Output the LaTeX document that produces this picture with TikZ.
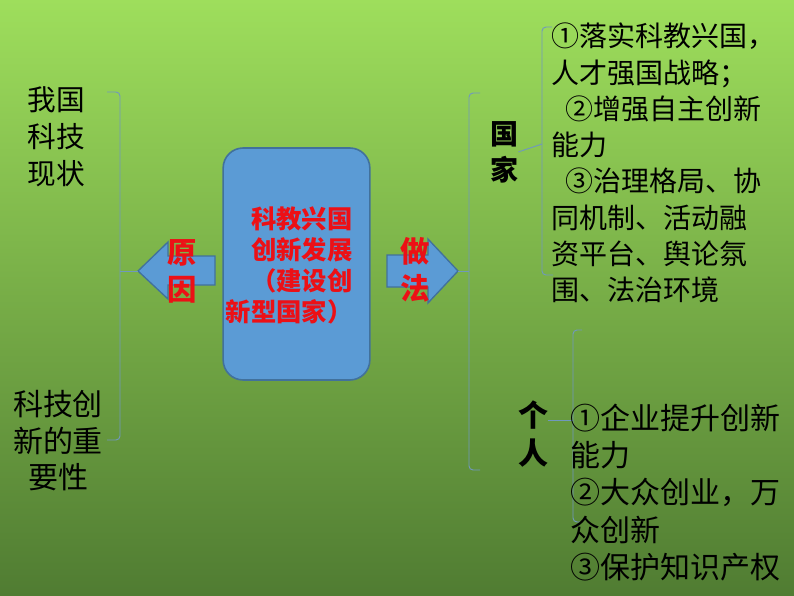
\documentclass[tikz,border=0pt]{standalone}
\usepackage{fontspec}
\setmainfont{Noto Sans CJK SC}
\definecolor{bgtop}{RGB}{158,222,92}
\definecolor{bgmid}{RGB}{122,182,66}
\definecolor{bgbot}{RGB}{80,124,50}
\definecolor{boxblue}{RGB}{91,155,213}
\definecolor{boxedge}{RGB}{65,113,156}
\definecolor{braceline}{RGB}{112,152,190}
\definecolor{keyred}{RGB}{236,16,22}
\tikzset{
  brace/.style={draw=braceline,line width=0.7pt,rounded corners=3pt},
  fatarrow/.style={fill=boxblue,draw=boxedge,line width=1pt,line join=miter},
  tag/.style={font=\bfseries\fontsize{22}{27.75}\selectfont,align=center,inner sep=0pt},
  body/.style={align=left,anchor=west,inner sep=0pt}
}
\begin{document}
\begin{tikzpicture}[x=0.75pt,y=-0.75pt]
  \useasboundingbox (0,0) rectangle (794,596);
  \shade[top color=bgtop,middle color=bgmid,bottom color=bgbot] (0,0) rectangle (794,596);

  % centre
  \node[draw=boxedge,fill=boxblue,line width=1.2pt,rounded corners=15pt,
        minimum width=110pt,minimum height=174pt,inner sep=0pt] (core) at (296.5,264) {};
  \node[text=keyred,font=\bfseries\fontsize{19}{23.25}\selectfont,align=right,inner sep=0pt]
    (coretext) at (289,265.5) {科教兴国\\创新发展\\（建设创\\新型国家）};

  % arrows
  \coordinate (lefttip) at (138,271);
  \coordinate (righttip) at (458,271);
  \draw[fatarrow] (lefttip) -- (168,242) -- (168,256) -- (215,256) -- (215,285)
    -- (168,285) -- (168,299) -- cycle;
  \draw[fatarrow] (387,255) -- (428,255) -- (428,239) -- (righttip) -- (428,303)
    -- (428,287) -- (387,287) -- cycle;
  \node[tag,text=keyred] (cause) at (182,271) {原\\因};
  \node[tag,text=keyred] (method) at (415,270) {做\\法};

  % left side
  \node[font=\fontsize{21.5}{27.75}\selectfont,align=center,inner sep=0pt] (status) at (56,137) {我国\\科技\\现状};
  \node[font=\fontsize{22.5}{27.4}\selectfont,align=center,inner sep=0pt] (weight) at (58,441) {科技创\\新的重\\要性};
  \coordinate (lb) at (120,271);
  \draw[brace] (107,92) -- (120,92) -- (120,440) -- (107,440);
  \draw[brace] (lb) -- (lefttip);

  % right side
  \coordinate (rb) at (469,271);
  \draw[brace] (480,93) -- (469,93) -- (469,470) -- (480,470);
  \draw[brace] (rb) -- (righttip);

  \node[tag,font=\bfseries\fontsize{21}{27}\selectfont] (state) at (504,152) {国\\家};
  \node[tag,font=\bfseries\fontsize{22.5}{28.5}\selectfont] (person) at (533,434) {个\\人};

  \coordinate (sb) at (542,144);
  \draw[brace] (552,27) -- (542,27) -- (542,275) -- (553,275);
  \draw[brace] (sb) -- (state.east);

  \coordinate (pb) at (573,420);
  \draw[brace] (582,330) -- (573,330) -- (573,522) -- (580,522);
  \draw[brace] (pb) -- (person.east |- pb);

  \node[body,font=\fontsize{21}{27.2}\selectfont] (statelist) at (551,163)
    {①落实科教兴国，\\人才强国战略；\\\hspace*{0.5em}②增强自主创新\\能力\\\hspace*{0.5em}③治理格局、协\\同机制、活动融\\资平台、舆论氛\\围、法治环境};
  \node[body,font=\fontsize{22.5}{27.9}\selectfont] (personlist) at (570,492.5)
    {①企业提升创新\\能力\\②大众创业，万\\众创新\\③保护知识产权};
\end{tikzpicture}
\end{document}
